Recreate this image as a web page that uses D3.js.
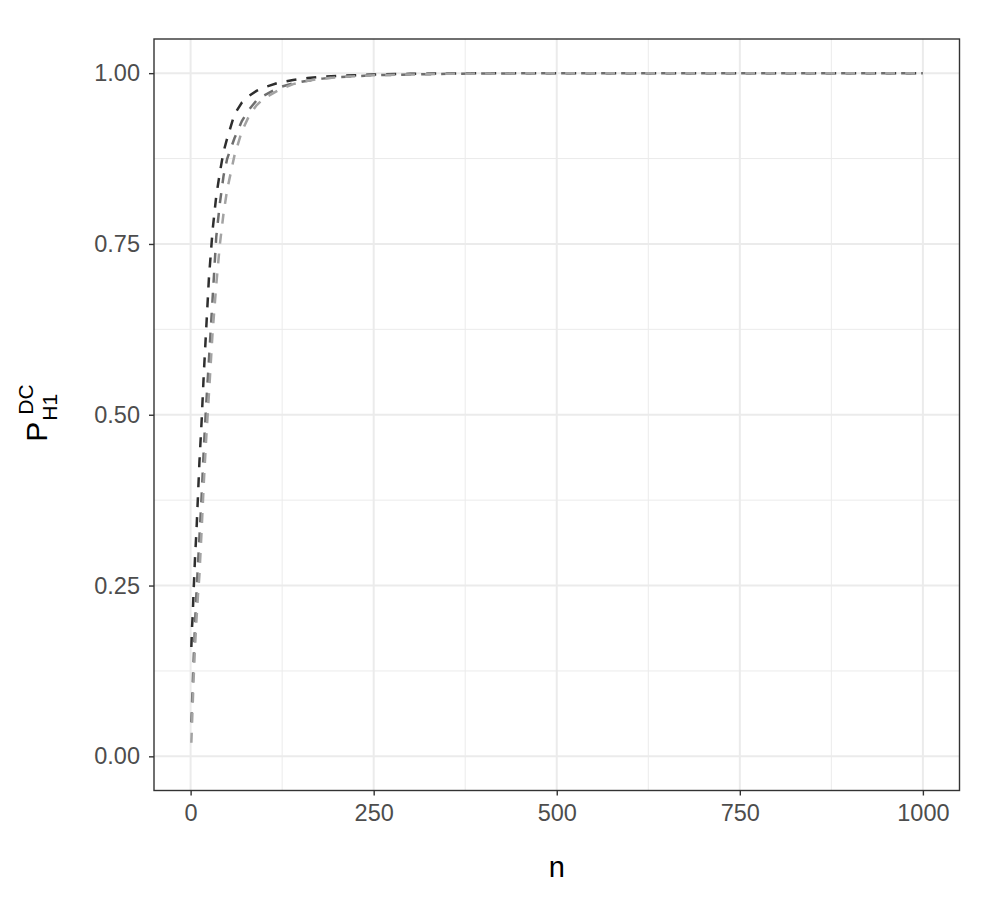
<!DOCTYPE html>
<html>
<head>
<meta charset="utf-8">
<script src="https://cdn.jsdelivr.net/npm/d3@7"></script>
<style>
  body { margin: 0; background: #fff; }
  svg { display: block; font-family: "Liberation Sans", Arial, sans-serif; }
</style>
</head>
<body>
<svg id="chart" width="1000" height="900"></svg>
<script>
// ---- data ----
const nValues = [1,2,3,4,5,6,8,10,12,15,18,21,25,30,35,40,45,50,60,70,80,90,100,120,140,160,180,200,250,300,350,400,500,600,700,800,900,1000];
const seriesDark = [0.16,0.19,0.21,0.24,0.265,0.29,0.33,0.38,0.43,0.49,0.56,0.62,0.70,0.77,0.82,0.855,0.885,0.905,0.94,0.957,0.967,0.974,0.979,0.986,0.99,0.993,0.995,0.996,0.998,0.999,0.9995,1,1,1,1,1,1,1];
const seriesMid = [0.05,0.08,0.11,0.14,0.165,0.195,0.24,0.28,0.32,0.38,0.45,0.51,0.58,0.67,0.76,0.81,0.85,0.875,0.905,0.93,0.947,0.96,0.967,0.979,0.985,0.989,0.992,0.994,0.997,0.998,0.999,0.9995,1,1,1,1,1,1];
const seriesLight = [0.02,0.05,0.08,0.11,0.135,0.16,0.2,0.235,0.265,0.33,0.4,0.46,0.53,0.62,0.69,0.75,0.795,0.83,0.88,0.915,0.938,0.953,0.963,0.975,0.984,0.989,0.992,0.994,0.997,0.998,0.999,0.9995,1,1,1,1,1,1];
const xTicks = [0,250,500,750,1000];
const xMinor = [125,375,625,875];
const yTicks = [0,0.25,0.5,0.75,1];
const yMinor = [0.125,0.375,0.625,0.875];
const seriesList = [
  {values: seriesDark, color: "#2e2e2e"},
  {values: seriesMid, color: "#6e6e6e"},
  {values: seriesLight, color: "#a3a3a3"}
];

// ---- layout ----
const svg = d3.select("#chart");
const L = 154, R = 959.5, T = 39, B = 790.5;
const x = d3.scaleLinear().domain([-50, 1050]).range([L, R]);
const y = d3.scaleLinear().domain([-0.05, 1.05]).range([B, T]);

// grid
const grid = svg.append("g");
grid.selectAll(".xmin").data(xMinor).join("line")
  .attr("x1", d => x(d)).attr("x2", d => x(d)).attr("y1", T).attr("y2", B)
  .attr("stroke", "#ebebeb").attr("stroke-width", 1);
grid.selectAll(".ymin").data(yMinor).join("line")
  .attr("y1", d => y(d)).attr("y2", d => y(d)).attr("x1", L).attr("x2", R)
  .attr("stroke", "#ebebeb").attr("stroke-width", 1);
grid.selectAll(".xmaj").data(xTicks).join("line")
  .attr("x1", d => x(d)).attr("x2", d => x(d)).attr("y1", T).attr("y2", B)
  .attr("stroke", "#ebebeb").attr("stroke-width", 2);
grid.selectAll(".ymaj").data(yTicks).join("line")
  .attr("y1", d => y(d)).attr("y2", d => y(d)).attr("x1", L).attr("x2", R)
  .attr("stroke", "#ebebeb").attr("stroke-width", 2);

// lines
const line = d3.line().x((d, i) => x(nValues[i])).y(d => y(d));
svg.append("g").selectAll("path").data(seriesList).join("path")
  .attr("d", s => line(s.values))
  .attr("fill", "none")
  .attr("stroke", s => s.color)
  .attr("stroke-width", 2.5)
  .attr("stroke-dasharray", "10,10");

// panel border
svg.append("rect").attr("x", L).attr("y", T).attr("width", R - L).attr("height", B - T)
  .attr("fill", "none").attr("stroke", "#333333").attr("stroke-width", 1.4);

// axes
const xAxis = d3.axisBottom(x).tickValues(xTicks).tickSize(5).tickPadding(9).tickFormat(d3.format("d"));
const gx = svg.append("g").attr("transform", `translate(0,${B})`).call(xAxis);
const yAxis = d3.axisLeft(y).tickValues(yTicks).tickSize(5).tickPadding(9).tickFormat(d3.format(".2f"));
const gy = svg.append("g").attr("transform", `translate(${L},0)`).call(yAxis);
[gx, gy].forEach(g => {
  g.select(".domain").remove();
  g.selectAll(".tick line").attr("stroke", "#333333").attr("stroke-width", 1.4);
  g.selectAll(".tick text").attr("fill", "#4d4d4d").style("font-size", "23.5px")
    .style("font-family", "Liberation Sans, Arial, sans-serif");
});

// axis titles
svg.append("text").attr("x", (L + R) / 2).attr("y", 877).attr("text-anchor", "middle")
  .style("font-size", "29px").attr("fill", "#000").text("n");

const yt = svg.append("g").attr("transform", `translate(47,${(T + B) / 2}) rotate(-90)`);
yt.append("text").attr("x", -27).attr("y", 0).style("font-size", "30px").attr("fill", "#000").text("P");
yt.append("text").attr("x", 0).attr("y", -14).style("font-size", "21px").attr("fill", "#000").text("DC");
yt.append("text").attr("x", -6).attr("y", 10).style("font-size", "21px").attr("fill", "#000").text("H1");
</script>
</body>
</html>
